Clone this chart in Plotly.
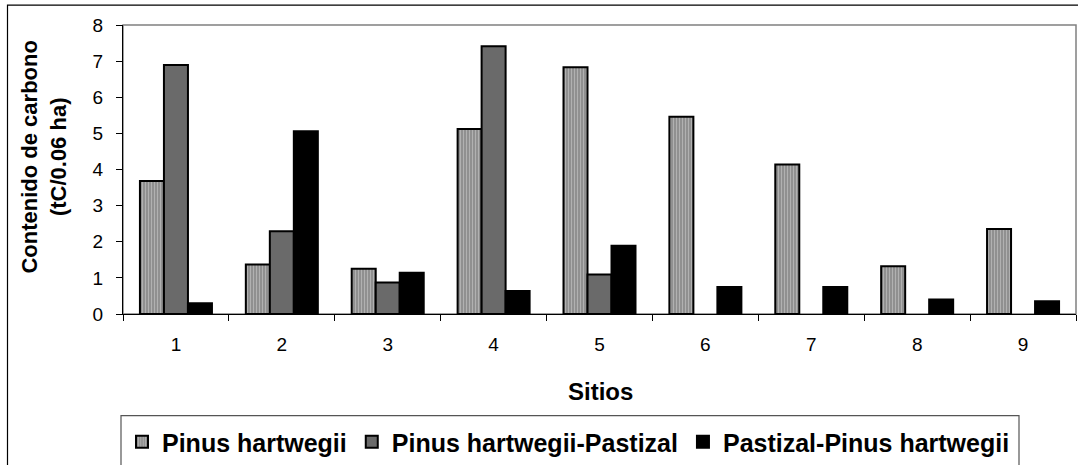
import plotly.graph_objects as go

sitios = ["1", "2", "3", "4", "5", "6", "7", "8", "9"]
pinus_hartwegii = [3.68, 1.37, 1.25, 5.12, 6.83, 5.46, 4.14, 1.32, 2.35]
pinus_pastizal = [6.89, 2.29, 0.87, 7.41, 1.09, None, None, None, None]
pastizal_pinus = [0.30, 5.06, 1.14, 0.64, 1.89, 0.75, 0.75, 0.40, 0.35]
series_names = ["Pinus hartwegii", "Pinus hartwegii-Pastizal", "Pastizal-Pinus hartwegii"]
y_ticks = [0, 1, 2, 3, 4, 5, 6, 7, 8]

W, H = 1078, 465
L, R, T, B = 123, 2, 25, 150
pw = W - L - R
ph = H - T - B

def px_x(x):
    return (x - L) / pw

def px_y(y):
    return (H - B - y) / ph

FONT = "Liberation Sans, Arial, sans-serif"

fig = go.Figure()
fig.add_trace(go.Bar(
    x=sitios, y=pinus_hartwegii, name=series_names[0],
    marker=dict(color="#a8a8a8", line=dict(color="black", width=2),
                pattern=dict(shape="|", fgcolor="#d6d6d6", bgcolor="#8c8c8c", size=3, solidity=0.4)),
))
fig.add_trace(go.Bar(
    x=sitios, y=pinus_pastizal, name=series_names[1],
    marker=dict(color="#6a6a6a", line=dict(color="black", width=2)),
))
fig.add_trace(go.Bar(
    x=sitios, y=pastizal_pinus, name=series_names[2],
    marker=dict(color="black", line=dict(color="black", width=2)),
))

fig.update_layout(
    width=W, height=H,
    margin=dict(l=L, r=R, t=T, b=B, pad=0),
    paper_bgcolor="white", plot_bgcolor="white",
    barmode="group", bargap=0.32, bargroupgap=0,
    font=dict(family=FONT, color="black", size=19),
    showlegend=True,
    legend=dict(orientation="h", x=px_x(122), xanchor="left", y=px_y(419), yanchor="top",
                font=dict(family=FONT, size=25, color="black", weight="bold"),
                bgcolor="rgba(0,0,0,0)", borderwidth=0, traceorder="normal"),
    xaxis=dict(type="category", showline=True, linecolor="black", linewidth=1,
               ticks="outside", ticklen=6, tickcolor="black", tickson="boundaries",
               tickfont=dict(size=19), ticklabelstandoff=13,
               showgrid=False, zeroline=False, fixedrange=True),
    yaxis=dict(range=[0, 8], tickvals=y_ticks, showline=True, linecolor="black", linewidth=1,
               ticks="outside", ticklen=6, tickcolor="black", tickfont=dict(size=19),
               ticklabelstandoff=9,
               showgrid=False, zeroline=False, fixedrange=True),
    shapes=[
        dict(type="rect", xref="paper", yref="paper", x0=0, x1=1, y0=0, y1=1,
             line=dict(color="#808080", width=1.5), layer="below"),
        dict(type="rect", xref="paper", yref="paper", x0=px_x(7.5), x1=px_x(1090),
             y0=px_y(480), y1=px_y(5), line=dict(color="black", width=1.2), layer="below"),
        dict(type="rect", xref="paper", yref="paper", x0=px_x(121), x1=px_x(1019),
             y0=px_y(480), y1=px_y(417), line=dict(color="#555555", width=1.2), layer="below"),
    ],
    annotations=[
        dict(text="<b>Contenido de carbono<br>(tC/0.06 ha)</b>", textangle=-90,
             xref="paper", yref="paper", x=px_x(44), y=px_y(158), xanchor="center", yanchor="middle",
             showarrow=False, font=dict(family=FONT, size=22, color="black")),
        dict(text="<b>Sitios</b>", xref="paper", yref="paper", x=px_x(600), y=px_y(393),
             xanchor="center", yanchor="middle", showarrow=False,
             font=dict(family=FONT, size=24, color="black")),
    ],
)

fig.write_html("out.html")
